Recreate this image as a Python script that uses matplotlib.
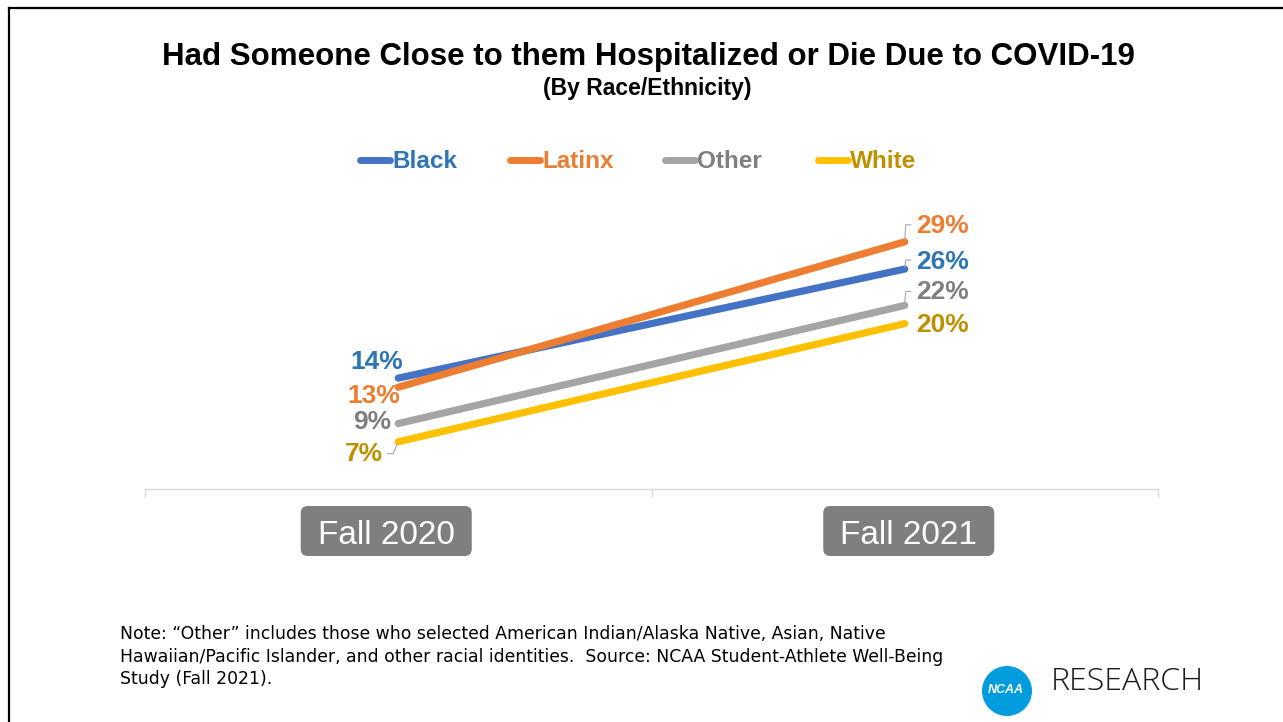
import matplotlib
matplotlib.use("Agg")
import matplotlib.pyplot as plt
from matplotlib.lines import Line2D
from matplotlib.patches import Circle, FancyBboxPatch

# Survey waves and share of respondents (%) by race/ethnicity
waves = ["Fall 2020", "Fall 2021"]
black = [14, 26]
latinx = [13, 29]
other = [9, 22]
white = [7, 20]

series_names = ["Black", "Latinx", "Other", "White"]
line_colors = ["#4472C4", "#ED7D31", "#A5A5A5", "#FFC000"]
text_colors = ["#2E75B6", "#ED7D31", "#7F7F7F", "#BF9000"]

W, H = 1283, 722
fig = plt.figure(figsize=(W / 100, H / 100), dpi=100)
fig.patch.set_facecolor("white")

BOLD = ["Liberation Sans", "DejaVu Sans"]

# slide frame (top and left edges)
fig.add_artist(Line2D([9 / W, 9 / W], [0, 1 - 8 / H], transform=fig.transFigure,
                      color="black", lw=1.6))
fig.add_artist(Line2D([9 / W, 1], [1 - 8 / H, 1 - 8 / H], transform=fig.transFigure,
                      color="black", lw=1.6))

# titles
fig.text(648 / W, 1 - 57 / H, "Had Someone Close to them Hospitalized or Die Due to COVID-19",
         ha="center", va="center", fontsize=22.5, fontweight="bold", family=BOLD)
fig.text(647 / W, 1 - 89 / H, "(By Race/Ethnicity)", ha="center", va="center",
         fontsize=16.5, fontweight="bold", family=BOLD)

# legend
legend_x = [360, 510, 665, 818]
for name, lc, tc, lx in zip(series_names, line_colors, text_colors, legend_x):
    fig.add_artist(Line2D([lx / W, (lx + 30) / W], [1 - 160 / H, 1 - 160 / H],
                          transform=fig.transFigure, color=lc, lw=5,
                          solid_capstyle="round"))
    fig.text((lx + 32) / W, 1 - 161 / H, name, ha="left", va="center",
             fontsize=17.5, fontweight="bold", color=tc, family=BOLD)

# plot area
ax_top, ax_bot = 200, 489
ax = fig.add_axes([145 / W, 1 - ax_bot / H, (1158 - 145) / W, (ax_bot - ax_top) / H])
ax.set_xlim(-0.5, 1.5)
ax.set_ylim(1.8, 33.6)
for s in ["top", "left", "right"]:
    ax.spines[s].set_visible(False)
ax.spines["bottom"].set_color("#D9D9D9")
ax.spines["bottom"].set_linewidth(1.0)
ax.set_yticks([])
ax.set_xticks([-0.5, 0.5, 1.5])
ax.set_xticklabels([])
ax.tick_params(axis="x", length=6, width=1.0, color="#D9D9D9", direction="out")
ax.patch.set_alpha(0)

xs = list(range(len(waves)))
all_series = [black, latinx, other, white]
for vals, lc in zip(all_series, line_colors):
    ax.plot(xs, vals, color=lc, lw=5.2, solid_capstyle="round", zorder=3)

# value labels: (dx, dy) pixel offsets from the point, alignment, leader path
label_specs = {
    0: [(5, 16, "right", None),
        (2, -9, "right", None),
        (-7, 2, "right", None),
        (-15, -12, "right", [(-1, -2), (-5, -12), (-11, -12)])],
    1: [(11, 7, "left", [(0, 2), (1, 9), (6, 9)]),
        (11, 16, "left", [(0, 2), (1, 17), (6, 17)]),
        (11, 13, "left", [(0, 3), (1, 14), (6, 14)]),
        (11, -1, "left", None)],
}
for xi in xs:
    for si, vals in enumerate(all_series):
        dx, dy, ha, leader = label_specs[xi][si]
        ax.annotate(f"{vals[xi]}%", xy=(xi, vals[xi]), xytext=(dx, dy),
                    textcoords="offset pixels", ha=ha, va="center",
                    fontsize=19, fontweight="bold", color=text_colors[si],
                    family=BOLD, zorder=4)
        if leader:
            px, py = ax.transData.transform((xi, vals[xi]))
            lx = [(px + p[0]) / W for p in leader]
            ly = [(py + p[1]) / H for p in leader]
            fig.add_artist(Line2D(lx, ly, transform=fig.transFigure,
                                  color="#A6A6A6", lw=0.8))

# category labels in rounded boxes
box_shift = [-12, 4]
box_w, box_h, box_cy = 171, 50, H - 531
for xi, name, shift in zip(xs, waves, box_shift):
    cx = ax.transData.transform((xi, 0))[0] + shift
    fig.add_artist(FancyBboxPatch((cx - box_w / 2 + 7, box_cy - box_h / 2 + 7),
                                  box_w - 14, box_h - 14, transform=None,
                                  boxstyle="round,pad=7,rounding_size=7",
                                  facecolor="#7F7F7F", edgecolor="none"))
    fig.text(cx / W, (box_cy - 1) / H, name, ha="center", va="center_baseline",
             fontsize=24, color="white", family=["Liberation Sans"])

# footnote
note_lines = ["Note: \u201cOther\u201d includes those who selected American Indian/Alaska Native, Asian, Native",
              "Hawaiian/Pacific Islander, and other racial identities.  Source: NCAA Student-Athlete Well-Being",
              "Study (Fall 2021)."]
for i, line in enumerate(note_lines):
    fig.text(120 / W, 1 - (634 + 22.5 * i) / H, line, ha="left", va="center",
             fontsize=12.4, family=["DejaVu Sans"])

# logo
fig.add_artist(Circle((1007, H - 691), 25, transform=None, facecolor="#009CDE",
                      edgecolor="none"))
fig.text(1006 / W, 1 - 690 / H, "NCAA", ha="center", va="center", fontsize=9,
         fontweight="bold", style="italic", color="white", family=BOLD)
fig.text(1051 / W, 1 - 682 / H, "RESEARCH", ha="left", va="center", fontsize=23,
         fontweight="light", color="#1A1A1A", family=["Open Sans", "DejaVu Sans"])

fig.savefig("out.png", dpi=100)
